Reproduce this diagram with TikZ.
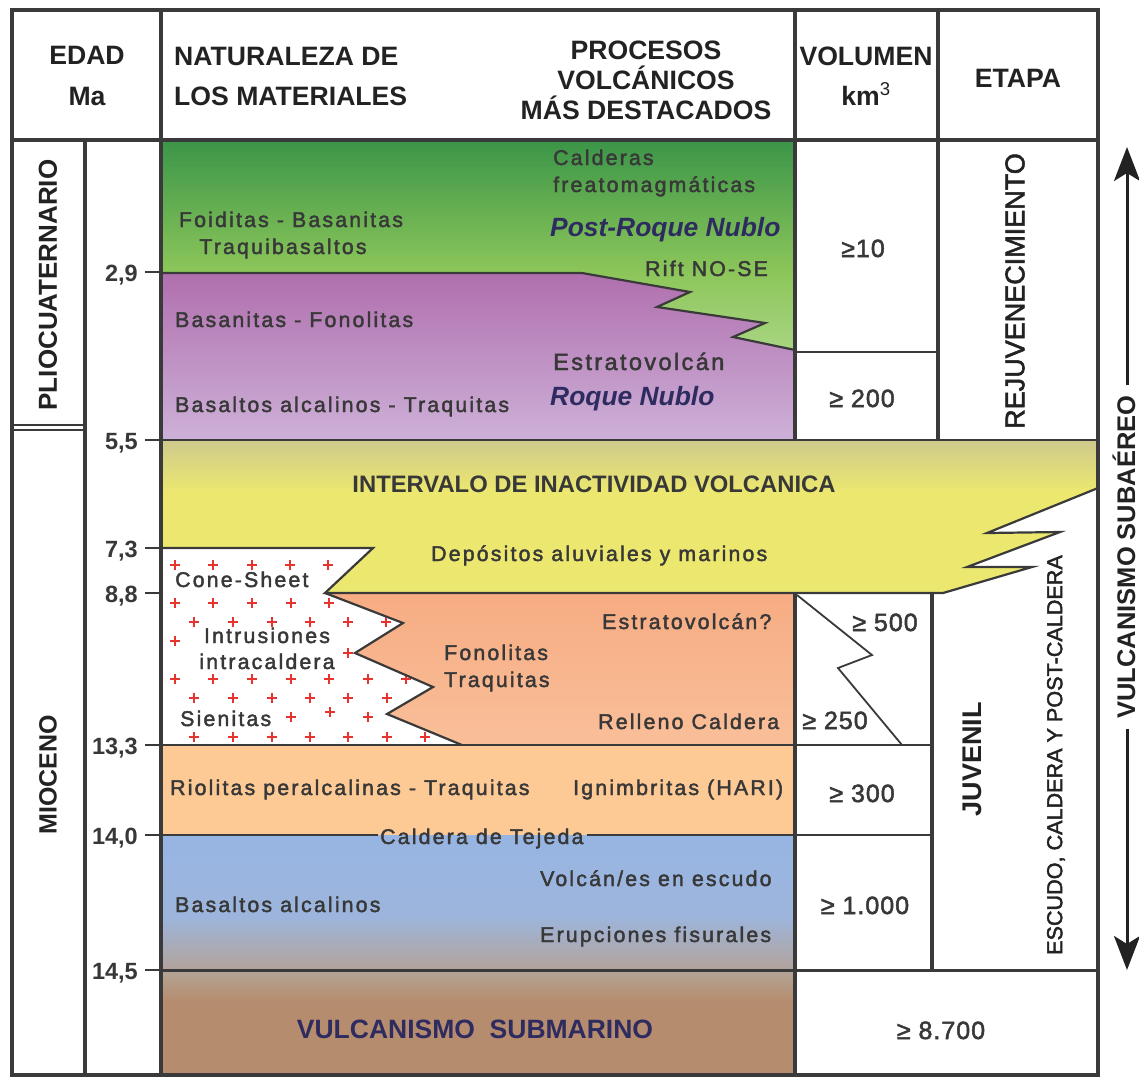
\documentclass[tikz,border=0pt]{standalone}
\usepackage{fontspec}
\setmainfont{Liberation Sans}
\newfontfamily\bodyf[LetterSpace=10.2,FakeBold=2]{Liberation Sans}
\newfontfamily\volf[LetterSpace=4,FakeBold=2]{Liberation Sans}
\newfontfamily\medf[FakeBold=2]{Liberation Sans}
\usetikzlibrary{arrows.meta}
\definecolor{tc}{HTML}{383838}
\definecolor{hc}{HTML}{222222}
\definecolor{ln}{HTML}{3A3A3A}
\definecolor{navy}{HTML}{2E2B60}
\definecolor{plusred}{HTML}{E8342E}
\definecolor{g1}{HTML}{3B9548}
\definecolor{g2}{HTML}{8CC65A}
\definecolor{g3}{HTML}{A9D582}
\definecolor{p1}{HTML}{B06FAE}
\definecolor{p2}{HTML}{CDB1D8}
\definecolor{y1}{HTML}{CEC98C}
\definecolor{y2}{HTML}{ECE86F}
\definecolor{s1}{HTML}{F7AC83}
\definecolor{s2}{HTML}{F9BF99}
\definecolor{r1}{HTML}{FDC994}
\definecolor{b1}{HTML}{97B5E3}
\definecolor{b2}{HTML}{9DB5DC}
\definecolor{b3}{HTML}{B2A39B}
\definecolor{br1}{HTML}{B3A597}
\definecolor{br2}{HTML}{B68C6E}
\pgfdeclareverticalshading{grnsh}{100bp}{color(0bp)=(g3);color(25bp)=(g3);color(43.6bp)=(g2);color(75bp)=(g1);color(100bp)=(g1)}
\pgfdeclareverticalshading{yelsh}{100bp}{color(0bp)=(y2);color(25bp)=(y2);color(58bp)=(y2);color(75bp)=(y1);color(100bp)=(y1)}
\pgfdeclareverticalshading{blush}{100bp}{color(0bp)=(b3);color(25bp)=(b3);color(45bp)=(b2);color(75bp)=(b1);color(100bp)=(b1)}
\pgfdeclareverticalshading{brnsh}{100bp}{color(0bp)=(br2);color(25bp)=(br2);color(60bp)=(br2);color(75bp)=(br1);color(100bp)=(br1)}
\begin{document}
\begin{tikzpicture}[x=1pt,y=-1pt,
  frame/.style={line width=4pt, draw=ln},
  bound/.style={line width=2.2pt, draw=ln, line join=miter},
  thinl/.style={line width=1.8pt, draw=ln},
  body/.style={font=\bodyf\fontsize{21.3}{24}\selectfont, text=tc, inner sep=0pt},
  bigb/.style={font=\bodyf\fontsize{23.5}{28}\selectfont, text=tc, inner sep=0pt},
  hdr/.style={font=\bfseries\fontsize{26.6}{30}\selectfont, text=hc, inner sep=0pt, anchor=base},
  age/.style={font=\bfseries\fontsize{23.5}{26}\selectfont, text=tc, inner sep=0pt, anchor=base east},
  vol/.style={font=\volf\fontsize{25}{28}\selectfont, text=tc, inner sep=0pt, anchor=base},
  nav/.style={font=\bfseries\itshape\fontsize{26.4}{30}\selectfont, text=navy, inner sep=0pt, anchor=base west},
  plus/.style={draw=plusred, line width=1.3pt},
  rot/.style={rotate=90, inner sep=0pt, text=hc},
]
\useasboundingbox (0,0) rectangle (1139,1077);
\fill[white] (0,0) rectangle (1139,1077);

% ---------- coloured layers ----------
\shade[shading=grnsh] (161,140) -- (795,140) -- (795,350) -- (733,337) -- (765,323) -- (657,307) -- (690,292) -- (582,273) -- (161,273) -- cycle;
\shade[top color=p1, bottom color=p2] (161,273) -- (582,273) -- (690,292) -- (657,307) -- (765,323) -- (733,337) -- (795,350) -- (795,440) -- (161,440) -- cycle;
\shade[shading=yelsh] (161,440) -- (1098,440) -- (1098,488) -- (987,533) -- (1060,532) -- (967,567) -- (1032,567) -- (943,593) -- (325,593) -- (373,548) -- (161,548) -- cycle;
\shade[top color=s1, bottom color=s2] (161,593) rectangle (795,745);
\fill[white] (161,548) -- (373,548) -- (325,593) -- (403,623) -- (355,653) -- (433,687) -- (387,714) -- (462,745) -- (161,745) -- cycle;
\fill[r1] (161,745) rectangle (795,835);
\shade[shading=blush] (161,835) rectangle (795,970);
\shade[shading=brnsh] (161,970) rectangle (795,1075);

% ---------- intrusion crosses ----------
\foreach \px/\py in {175/565,213/565,252/565,290/565,328/565,
  175/603,213/603,252/603,291/603,329/603,
  194/622,233/622,272/622,310/622,348/622,386/622,
  175/641,348/653,
  175/679,213/679,252/679,291/679,329/679,368/679,406/679,
  194/698,233/698,272/698,310/698,348/698,387/698,
  291/717,330/712,368/717,
  194/737,233/737,272/737,310/737,348/737,387/737,425/737}
  {\draw[plus] (\px-5,\py) -- (\px+5,\py) (\px,\py-5) -- (\px,\py+5);}

% ---------- boundaries ----------
\draw[bound] (161,273) -- (582,273) -- (690,292) -- (657,307) -- (765,323) -- (733,337) -- (795,350);
\draw[bound] (161,440) -- (1098,440);
\draw[bound] (161,548) -- (373,548) -- (325,593) -- (943,593) -- (1032,567) -- (967,567) -- (1060,532) -- (987,533) -- (1098,488);
\draw[bound] (325,593) -- (403,623) -- (355,653) -- (433,687) -- (387,714) -- (462,745);
\draw[bound] (161,745) -- (932,745);
\draw[bound] (161,835) -- (378,835) (587,835) -- (932,835);
\draw[line width=3pt, draw=ln] (161,970) -- (1098,970);
\draw[thinl] (795,352) -- (938,352);
\draw[thinl] (797,595) -- (872,655) -- (838,668) -- (902,745);

% ---------- grid ----------
\draw[frame] (12,140) -- (1098,140);
\draw[frame] (85,140) -- (85,1075);
\draw[frame] (161,10) -- (161,1075);
\draw[frame] (795,10) -- (795,440);
\draw[frame] (795,593) -- (795,1075);
\draw[frame] (938,10) -- (938,440);
\draw[frame] (932,593) -- (932,970);
\draw[line width=2pt, draw=ln] (12,425) -- (85,425) (12,429.5) -- (85,429.5);
\draw[frame] (12,10) rectangle (1098,1075);

% ---------- age ticks ----------
\foreach \ty in {272,440,548,593,745,835,970}
  {\draw[line width=2.2pt, draw=ln] (145,\ty) -- (161,\ty);}

% ---------- header ----------
\node[hdr] (h1) at (87,64) {EDAD};
\node[hdr] (h2) at (87,105) {Ma};
\node[hdr, anchor=base west] (h3) at (174,65) {NATURALEZA DE};
\node[hdr, anchor=base west] (h4) at (174,105) {LOS MATERIALES};
\node[hdr] (h5) at (646,59) {PROCESOS};
\node[hdr] (h6) at (646,89) {VOLCÁNICOS};
\node[hdr] (h7) at (646,119) {MÁS DESTACADOS};
\node[hdr] (h8) at (866,65) {VOLUMEN};
\node[hdr] (h9) at (866,105) {km\textsuperscript{\mdseries 3}};
\node[hdr] (h10) at (1018,87) {ETAPA};

% ---------- periods / ages ----------
\node[rot, font=\bfseries\fontsize{26}{30}\selectfont] (pq) at (48,285) {PLIOCUATERNARIO};
\node[rot, font=\bfseries\fontsize{25}{30}\selectfont] (mi) at (48,775) {MIOCENO};
\node[age] (a1) at (138,281) {2,9};
\node[age] (a2) at (138,449) {5,5};
\node[age] (a3) at (138,557) {7,3};
\node[age] (a4) at (138,602) {8,8};
\node[age] (a5) at (138,754) {13,3};
\node[age] (a6) at (138,844) {14,0};
\node[age] (a7) at (138,979) {14,5};

% ---------- materials / processes ----------
\node[body, anchor=base] (t1) at (291,227) {Foiditas - Basanitas};
\node[body, anchor=base] (t2) at (283,254) {Traquibasaltos};
\node[body, anchor=base west] (t3) at (553,165) {Calderas};
\node[body, anchor=base west] (t4) at (553,192) {freatomagmáticas};
\node[nav] (t5) at (550,236) {Post-Roque Nublo};
\node[body, anchor=base west] (t6) at (645,276) {Rift NO-SE};
\node[body, anchor=base west] (t7) at (175,327) {Basanitas - Fonolitas};
\node[bigb, anchor=base west] (t8) at (553,370) {Estratovolcán};
\node[nav] (t9) at (550,405) {Roque Nublo};
\node[body, anchor=base west] (t10) at (175,412) {Basaltos alcalinos - Traquitas};
\node[font=\bfseries\fontsize{23.8}{28}\selectfont, text=tc, inner sep=0pt, anchor=base] (t11) at (594,492) {INTERVALO DE INACTIVIDAD VOLCANICA};
\node[body, anchor=base west] (t12) at (431,561) {Depósitos aluviales y marinos};
\node[body, anchor=base west] (t13) at (175,587) {Cone-Sheet};
\node[body, anchor=base] (t14) at (267,643) {Intrusiones};
\node[body, anchor=base] (t15) at (267,669) {intracaldera};
\node[body, anchor=base west] (t16) at (180,726) {Sienitas};
\node[body, anchor=base west] (t17) at (602,629) {Estratovolcán?};
\node[body, anchor=base west] (t18) at (444,660) {Fonolitas};
\node[body, anchor=base west] (t19) at (444,687) {Traquitas};
\node[body, anchor=base west] (t20) at (598,729) {Relleno Caldera};
\node[body, anchor=base west] (t21) at (170,795) {Riolitas peralcalinas - Traquitas};
\node[body, anchor=base west] (t22) at (573,795) {Ignimbritas (HARI)};
\node[body, anchor=base west] (t23) at (380,844) {Caldera de Tejeda};
\node[body, anchor=base west] (t24) at (540,886) {Volcán/es en escudo};
\node[body, anchor=base west] (t25) at (175,912) {Basaltos alcalinos};
\node[body, anchor=base west] (t26) at (540,942) {Erupciones fisurales};
\node[font=\bfseries\fontsize{26.5}{30}\selectfont, text=navy, inner sep=0pt, anchor=base] (t27) at (475,1038) {VULCANISMO\ \ SUBMARINO};

% ---------- volumes ----------
\node[vol] (v1) at (863,257) {≥10};
\node[vol] (v2) at (862,407) {≥ 200};
\node[vol] (v3) at (885,631) {≥ 500};
\node[vol] (v4) at (835,729) {≥ 250};
\node[vol] (v5) at (862,802) {≥ 300};
\node[vol] (v6) at (865,914) {≥ 1.000};
\node[vol] (v7) at (941,1039) {≥ 8.700};

% ---------- stages ----------
\node[rot, font=\medf\fontsize{27}{30}\selectfont] (e1) at (1015,291) {REJUVENECIMIENTO};
\node[rot, font=\bfseries\fontsize{27}{30}\selectfont] (e2) at (972,759) {JUVENIL};
\node[rot, font=\medf\fontsize{21.6}{25}\selectfont] (e3) at (1056,755) {ESCUDO, CALDERA Y POST-CALDERA};
\node[rot, font=\bfseries\fontsize{25.5}{30}\selectfont] (vs) at (1124,557) {VULCANISMO SUBAÉREO};
\coordinate (atop) at (1127,147);
\coordinate (abot) at (1127,970);
\draw[line width=3pt, draw=hc, shorten <=10pt, -{Stealth[length=34pt,width=26pt,inset=8pt]}] (vs.east -| atop) -- (atop);
\draw[line width=3pt, draw=hc, shorten <=10pt, -{Stealth[length=34pt,width=26pt,inset=8pt]}] (vs.west -| abot) -- (abot);
\end{tikzpicture}
\end{document}
